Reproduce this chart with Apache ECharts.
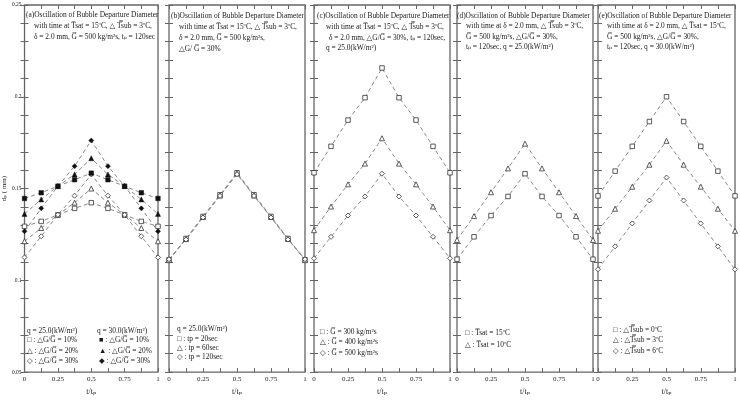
<!DOCTYPE html>
<html><head><meta charset="utf-8">
<script src="https://cdn.jsdelivr.net/npm/echarts@6/dist/echarts.min.js"></script>
<style>html,body{margin:0;padding:0;background:#fff}#c{width:740px;height:401px}</style>
</head><body><div id="c"></div>
<script>
// ---- data ----
const tRatio = [0, 0.125, 0.25, 0.375, 0.5, 0.625, 0.75, 0.875, 1];
const yTicks = [0.05, 0.1, 0.15, 0.2, 0.25];
const xTicks = [0, 0.25, 0.5, 0.75, 1];

// (a) q=25 open, q=30 filled; dG/G = 10,20,30 %
const a_q25_10 = [0.1294, 0.1321, 0.1357, 0.1392, 0.1423, 0.1392, 0.1357, 0.1321, 0.1294];
const a_q25_20 = [0.1213, 0.1285, 0.1357, 0.1423, 0.1500, 0.1423, 0.1357, 0.1285, 0.1213];
const a_q25_30 = [0.1125, 0.1240, 0.1357, 0.1461, 0.1577, 0.1461, 0.1357, 0.1240, 0.1125];
const a_q30_10 = [0.1446, 0.1477, 0.1513, 0.1548, 0.1584, 0.1548, 0.1513, 0.1477, 0.1446];
const a_q30_20 = [0.1362, 0.1441, 0.1513, 0.1577, 0.1665, 0.1577, 0.1513, 0.1441, 0.1362];
const a_q30_30 = [0.1267, 0.1392, 0.1513, 0.1622, 0.1762, 0.1622, 0.1513, 0.1392, 0.1267];
// (b) tp = 20, 60, 120 sec
const b_tp20  = [0.1112, 0.1228, 0.1348, 0.1466, 0.1586, 0.1466, 0.1348, 0.1228, 0.1112];
const b_tp60  = [0.1110, 0.1225, 0.1345, 0.1462, 0.1582, 0.1462, 0.1345, 0.1225, 0.1110];
const b_tp120 = [0.1115, 0.1222, 0.1342, 0.1460, 0.1578, 0.1460, 0.1342, 0.1222, 0.1115];
// (c) G = 300, 400, 500
const c_G300 = [0.1586, 0.1730, 0.1873, 0.1995, 0.2157, 0.1995, 0.1873, 0.1730, 0.1586];
const c_G400 = [0.1273, 0.1402, 0.1523, 0.1636, 0.1774, 0.1636, 0.1523, 0.1402, 0.1273];
const c_G500 = [0.1120, 0.1237, 0.1353, 0.1457, 0.1581, 0.1457, 0.1353, 0.1237, 0.1120];
// (d) Tsat = 15, 10
const d_T15 = [0.1115, 0.1237, 0.1353, 0.1457, 0.1581, 0.1457, 0.1353, 0.1237, 0.1115];
const d_T10 = [0.1220, 0.1350, 0.1480, 0.1610, 0.1745, 0.1610, 0.1480, 0.1350, 0.1220];
// (e) dTsub = 0, 3, 6
const e_S0 = [0.1460, 0.1595, 0.1730, 0.1865, 0.2000, 0.1865, 0.1730, 0.1595, 0.1460];
const e_S3 = [0.1270, 0.1390, 0.1510, 0.1630, 0.1760, 0.1630, 0.1510, 0.1390, 0.1270];
const e_S6 = [0.1060, 0.1185, 0.1310, 0.1435, 0.1560, 0.1435, 0.1310, 0.1185, 0.1060];

// ---- layout ----
const FONT = '"Liberation Serif", "DejaVu Serif", serif';
const panels = [
  {left: 23, width: 135},
  {left: 169, width: 136},
  {left: 314, width: 136},
  {left: 457, width: 136},
  {left: 598, width: 137}
];
const TOP = 5, HEIGHT = 372;
const AX = '#666';

const OL = '\u0305', DOL = '\u033F';
const Gb = 'G' + OL, Tb = 'T' + OL, Tbb = 'T' + DOL, tp = 't\u209A';

const grids = [], xAxes = [], yAxes = [], series = [];
panels.forEach((p, i) => {
  grids.push({left: p.left, top: TOP, width: p.width, height: HEIGHT, show: true,
    borderColor: AX, borderWidth: 1.3, backgroundColor: 'transparent'});
  const xBase = {gridIndex: i, type: 'value', min: 0, max: 1, interval: 0.25,
    axisLine: {show: false}, splitLine: {show: false},
    axisTick: {inside: true, length: 4, lineStyle: {color: AX}},
    minorTick: {show: true, splitNumber: 2, length: 4, lineStyle: {color: AX}}};
  xAxes.push(Object.assign({}, xBase, {position: 'bottom',
    axisLabel: {fontFamily: FONT, fontSize: 7, color: '#222', margin: 4,
      formatter: v => String(xTicks.find(t => Math.abs(t - v) < 1e-9) ?? '')},
    name: 't/' + tp, nameLocation: 'middle', nameGap: 13,
    nameTextStyle: {fontFamily: FONT, fontSize: 8, color: '#222'}}));
  xAxes.push(Object.assign({}, xBase, {position: 'top', axisLabel: {show: false}}));
  const yBase = {gridIndex: i, type: 'value', min: 0.05, max: 0.25, interval: 0.05,
    axisLine: {show: false}, splitLine: {show: false},
    axisTick: {inside: true, length: 4, lineStyle: {color: AX}},
    minorTick: {show: true, splitNumber: 5, length: 4, lineStyle: {color: AX}}};
  yAxes.push(Object.assign({}, yBase, {position: 'left',
    axisLabel: {show: i === 0, fontFamily: FONT, fontSize: 5.5, color: '#222', margin: 3,
      formatter: v => String(yTicks.find(t => Math.abs(t - v) < 1e-9) ?? '')},
    name: i === 0 ? 'd' + '\u209A' + ' ( mm)' : '', nameLocation: 'middle', nameGap: 14,
    nameTextStyle: {fontFamily: FONT, fontSize: 7, color: '#222'}}));
  yAxes.push(Object.assign({}, yBase, {position: 'right', axisLabel: {show: false}}));
});

function mk(panel, data, symbol, filled, size) {
  series.push({
    type: 'line', xAxisIndex: panel * 2, yAxisIndex: panel * 2,
    data: tRatio.map((t, k) => [t, data[k]]),
    symbol: symbol, symbolSize: size, showAllSymbol: true,
    lineStyle: {color: '#8a8a8a', width: 1, type: [4, 3]},
    itemStyle: filled ? {color: '#111', borderColor: '#111', borderWidth: 0.5}
                      : {color: '#fff', borderColor: '#333', borderWidth: 0.8},
    z: filled ? 3 : 2, animation: false
  });
}
mk(0, a_q25_10, 'rect', false, 4.5);
mk(0, a_q25_20, 'triangle', false, 5);
mk(0, a_q25_30, 'diamond', false, 5);
mk(0, a_q30_10, 'rect', true, 4.5);
mk(0, a_q30_20, 'triangle', true, 5);
mk(0, a_q30_30, 'diamond', true, 5);
mk(1, b_tp20, 'rect', false, 4.5);
mk(1, b_tp60, 'triangle', false, 5);
mk(1, b_tp120, 'diamond', false, 5);
mk(2, c_G300, 'rect', false, 4.5);
mk(2, c_G400, 'triangle', false, 5);
mk(2, c_G500, 'diamond', false, 5);
mk(3, d_T15, 'rect', false, 4.5);
mk(3, d_T10, 'triangle', false, 5);
mk(4, e_S0, 'rect', false, 4.5);
mk(4, e_S3, 'triangle', false, 5);
mk(4, e_S6, 'diamond', false, 5);

// ---- texts ----
const texts = [
  // (a)
  [26, 15, '(a)Oscillation of Bubble Departure Diameter'],
  [34, 26, 'with time at ' + Tb + 'sat = 15ºC, \u25B3 ' + Tbb + 'sub = 3ºC,'],
  [34, 37, '\u03B4 = 2.0 mm, ' + Gb + ' = 500 kg/m²s, ' + tp + ' = 120sec'],
  // (b)
  [171, 16, '(b)Oscillation of Bubble Departure Diameter'],
  [179, 27, 'with time at ' + Tb + 'sat = 15ºC, \u25B3 ' + Tbb + 'sub = 3ºC,'],
  [179, 38, '\u03B4 = 2.0 mm, ' + Gb + ' = 500 kg/m²s,'],
  [179, 49, '\u25B3G/ ' + Gb + ' = 30%'],
  // (c)
  [317, 16, '(c)Oscillation of Bubble Departure Diameter'],
  [326, 27, 'with time at ' + Tb + 'sat = 15ºC, \u25B3 ' + Tbb + 'sub = 3ºC,'],
  [329, 38, '\u03B4 = 2.0 mm, \u25B3G/' + Gb + ' = 30%, ' + tp + ' = 120sec,'],
  [326, 48, 'q = 25.0(kW/m²)'],
  // (d)
  [457, 16, '(d)Oscillation of Bubble Departure Diameter'],
  [466, 26, 'with time at \u03B4 = 2.0 mm, \u25B3 ' + Tbb + 'sub = 3ºC,'],
  [466, 37, Gb + ' = 500 kg/m²s, \u25B3G/' + Gb + ' = 30%,'],
  [466, 47, tp + ' = 120sec, q = 25.0(kW/m²)'],
  // (e)
  [599, 16, '(e)Oscillation of Bubble Departure Diameter'],
  [607, 26, 'with time at \u03B4 = 2.0 mm, \u25B3 ' + Tb + 'sat = 15ºC,'],
  [607, 37, Gb + ' = 500 kg/m²s, \u25B3G/' + Gb + ' = 30%,'],
  [607, 47, tp + ' = 120sec, q = 30.0(kW/m²)'],
  // legends
  [27, 331, 'q = 25.0(kW/m²)'],
  [27, 340, '\u25A1 : \u25B3G/' + Gb + ' = 10%'],
  [27, 351, '\u25B3 : \u25B3G/' + Gb + ' = 20%'],
  [27, 361, '\u25C7 : \u25B3G/' + Gb + ' = 30%'],
  [97, 331, 'q = 30.0(kW/m²)'],
  [99, 340, '\u25A0 : \u25B3G/' + Gb + ' = 10%'],
  [99, 351, '\u25B2 : \u25B3G/' + Gb + ' = 20%'],
  [99, 361, '\u25C6 : \u25B3G/' + Gb + ' = 30%'],
  [177, 329, 'q = 25.0(kW/m²)'],
  [177, 339, '\u25A1 : tp = 20sec'],
  [177, 348, '\u25B3 : tp = 60sec'],
  [177, 357, '\u25C7 : tp = 120sec'],
  [320, 332, '\u25A1 : ' + Gb + ' = 300 kg/m²s'],
  [320, 342, '\u25B3 : ' + Gb + ' = 400 kg/m²s'],
  [320, 353, '\u25C7 : ' + Gb + ' = 500 kg/m²s'],
  [465, 333, '\u25A1 : ' + Tb + 'sat = 15ºC'],
  [465, 345, '\u25B3 : ' + Tb + 'sat = 10ºC'],
  [613, 330, '\u25A1 : \u25B3' + Tbb + 'sub = 0ºC'],
  [613, 340, '\u25B3 : \u25B3' + Tbb + 'sub = 3ºC'],
  [613, 351, '\u25C7 : \u25B3' + Tbb + 'sub = 6ºC']
];
const graphic = texts.map(([x, y, s]) => ({
  type: 'text', x: x, y: y, silent: true, z: 10,
  style: {text: s, fill: '#1a1a1a', font: '7.4px ' + FONT, textVerticalAlign: 'middle'}
}));

const chart = echarts.init(document.getElementById('c'), null, {renderer: 'canvas'});
chart.setOption({
  animation: false,
  backgroundColor: '#fff',
  grid: grids, xAxis: xAxes, yAxis: yAxes, series: series, graphic: graphic
});
</script></body></html>
